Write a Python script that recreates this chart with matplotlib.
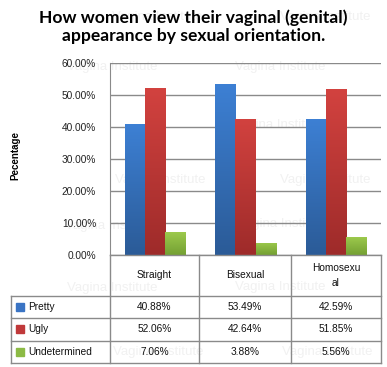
import numpy as np
import matplotlib
matplotlib.use('Agg')
import matplotlib.pyplot as plt

# data
categories = ['Straight', 'Bisexual', 'Homosexu\nal']
series = ['Pretty', 'Ugly', 'Undetermined']
pretty = [40.88, 53.49, 42.59]
ugly = [52.06, 42.64, 51.85]
undetermined = [7.06, 3.88, 5.56]
values = [pretty, ugly, undetermined]
yticks = [0, 10, 20, 30, 40, 50, 60]

# gradient top / bottom colours for each series
top_cols = ['#3d80d4', '#d2423f', '#9cc94c']
bot_cols = ['#2b5b97', '#9e2b2a', '#74a033']
swatch = ['#3a74c4', '#c0393a', '#8cba45']

W, H = 387, 367
fig = plt.figure(figsize=(W / 100, H / 100), dpi=100)
fig.patch.set_facecolor('white')

# faint watermark text behind everything
bg = fig.add_axes([0, 0, 1, 1], zorder=0)
bg.set_xlim(0, W)
bg.set_ylim(H, 0)
bg.axis('off')
wm = [(157, 17), (325, 17), (112, 67), (280, 67),
      (278, 125), (160, 180), (325, 180),
      (110, 226), (282, 224), (112, 288), (280, 287), (158, 352), (327, 352)]
for x, y in wm:
    bg.text(x, y, 'Vagina Institute', color='#f1f1f1', fontsize=9.5,
            family='Liberation Sans', ha='center', va='center')

# main chart
ax = fig.add_axes([110 / W, (H - 255) / H, (381 - 110) / W, (255 - 63) / H], zorder=1)
ax.patch.set_alpha(0)
x = np.arange(len(categories))
bw = 0.2215
for i, vals in enumerate(values):
    pos = x + (i - 1) * bw
    bars = ax.bar(pos, [v / 100 for v in vals], bw, color='none', zorder=3)
    grad = np.linspace(0, 1, 100).reshape(-1, 1)
    c0 = np.array(matplotlib.colors.to_rgb(bot_cols[i]))
    c1 = np.array(matplotlib.colors.to_rgb(top_cols[i]))
    img = c0[None, None, :] * (1 - grad[:, :, None]) + c1[None, None, :] * grad[:, :, None]
    for b in bars:
        x0, h = b.get_x(), b.get_height()
        im = ax.imshow(img, extent=[x0, x0 + bw, 0, h], origin='lower',
                       aspect='auto', zorder=3)
        im.set_clip_path(b)

ax.set_xlim(-0.5, 2.5)
ax.set_ylim(0, 0.6)
ax.set_yticks([t / 100 for t in yticks])
ax.set_yticklabels(['%.2f%%' % t for t in yticks], family='Liberation Sans',
                   fontsize=7.3, color='#222222')
ax.set_xticks([])
ax.tick_params(axis='y', length=0, pad=10)
ax.grid(axis='y', color='#8a8a8a', linewidth=1, zorder=0)
ax.set_axisbelow(True)
for s in ['top', 'right', 'bottom']:
    ax.spines[s].set_visible(False)
ax.spines['left'].set_color('#8a8a8a')

# title and y label
fig.text(0.5, 1 - 27 / H, 'How women view their vaginal (genital)\nappearance by sexual orientation.',
         ha='center', va='center', fontsize=12.6, fontweight='bold', family='Lato',
         linespacing=1.15)
fig.text(15 / W, 1 - 155 / H, 'Pecentage', rotation=90, ha='center', va='center',
         fontsize=7, fontweight='bold', family='Liberation Sans')

# data table drawn in pixel coordinates
tb = fig.add_axes([0, 0, 1, 1], zorder=2)
tb.set_xlim(0, W)
tb.set_ylim(H, 0)
tb.axis('off')
lc = '#8a8a8a'
cols = [110, 199, 291, 381]
rows = [255, 296, 318, 341, 363]
for cx in cols:
    tb.plot([cx, cx], [rows[0], rows[-1]], color=lc, lw=1)
tb.plot([110, 381], [rows[0], rows[0]], color=lc, lw=1)
for ry in rows[1:]:
    tb.plot([11, 381], [ry, ry], color=lc, lw=1)
tb.plot([11, 11], [rows[1], rows[-1]], color=lc, lw=1)

for j, cat in enumerate(categories):
    cx = (cols[j] + cols[j + 1]) / 2
    tb.text(cx, (rows[0] + rows[1]) / 2, cat, ha='center', va='center',
            fontsize=7.3, family='Liberation Sans', linespacing=1.6, color='#111111')
for i, name in enumerate(series):
    cy = (rows[i + 1] + rows[i + 2]) / 2
    tb.add_patch(plt.Rectangle((16, cy - 4.5), 8, 8, color=swatch[i]))
    tb.text(28, cy, name, ha='left', va='center', fontsize=7.3,
            family='Liberation Sans', color='#111111')
    for j in range(len(categories)):
        cx = (cols[j] + cols[j + 1]) / 2
        tb.text(cx, cy, '%.2f%%' % values[i][j], ha='center', va='center',
                fontsize=7.3, family='Liberation Sans', color='#111111')

fig.savefig('out.png', dpi=100)
